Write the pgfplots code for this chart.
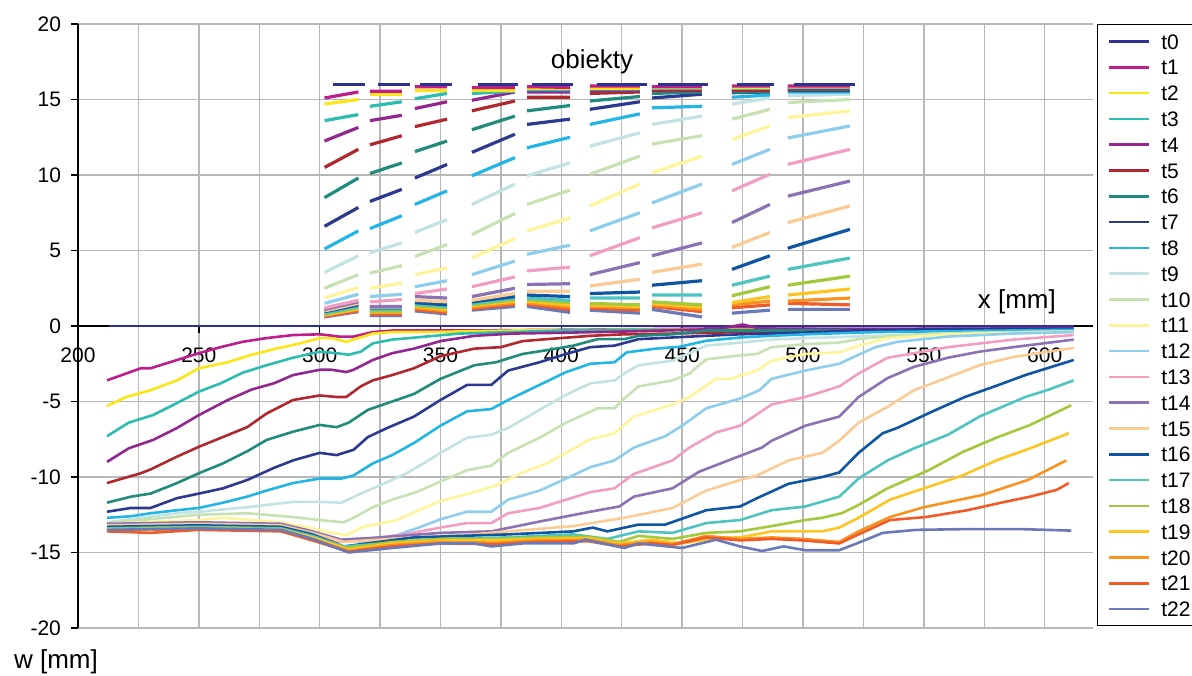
\documentclass[border=0pt]{standalone}
\usepackage{pgfplots}
\usepackage{pgfplotstable}
\pgfplotsset{compat=1.18}
\usepackage{fontspec}
\setmainfont{Liberation Sans}

\definecolor{c0}{HTML}{2E3192}
\definecolor{c1}{HTML}{BE1E8C}
\definecolor{c2}{HTML}{FCE516}
\definecolor{c3}{HTML}{2DBCB0}
\definecolor{c4}{HTML}{92278F}
\definecolor{c5}{HTML}{B0282D}
\definecolor{c6}{HTML}{208B7D}
\definecolor{c7}{HTML}{2B3990}
\definecolor{c8}{HTML}{22B5E6}
\definecolor{c9}{HTML}{C2E3E2}
\definecolor{c10}{HTML}{C6E2B2}
\definecolor{c11}{HTML}{FFF49A}
\definecolor{c12}{HTML}{8DCEEF}
\definecolor{c13}{HTML}{F29EC2}
\definecolor{c14}{HTML}{8A72B4}
\definecolor{c15}{HTML}{FCCB94}
\definecolor{c16}{HTML}{0E55A4}
\definecolor{c17}{HTML}{4DC4C0}
\definecolor{c18}{HTML}{A3C83C}
\definecolor{c19}{HTML}{FDC521}
\definecolor{c20}{HTML}{F7931E}
\definecolor{c21}{HTML}{F15A29}
\definecolor{c22}{HTML}{6A79B8}

% object segments (x0/t0 for t0, x for all others); nan rows break the lines
\pgfplotstableread{
x0 t0 x t1 t2 t3 t4 t5 t6 t7 t8 t9 t10 t11 t12 t13 t14 t15 t16 t17 t18 t19 t20 t21 t22
305.5 16 302 15.1 14.7 13.6 12.25 10.5 8.5 6.6 5.1 3.55 2.5 1.85 1.5 1.2 1.1 1.0 0.95 0.85 0.8 0.75 0.7 0.65 0.6
318.7 16 316 15.5 15.0 14.0 13.15 11.7 9.8 7.85 6.3 4.65 3.4 2.55 2.1 1.7 1.6 1.5 1.4 1.3 1.2 1.15 1.1 1.0 0.95
321 nan 318 nan nan nan nan nan nan nan nan nan nan nan nan nan nan nan nan nan nan nan nan nan nan
324.1 16 320.8 15.55 15.35 14.55 13.6 12.0 10.1 8.25 6.45 4.85 3.5 2.5 1.95 1.6 1.3 1.25 1.2 1.1 1.0 0.95 0.9 0.8 0.7
337.4 16 334 15.55 15.35 14.85 13.95 12.6 10.8 9.05 7.3 5.5 4.0 2.85 2.1 1.75 1.3 1.25 1.2 1.1 1.0 0.95 0.9 0.8 0.7
339.5 nan 337 nan nan nan nan nan nan nan nan nan nan nan nan nan nan nan nan nan nan nan nan nan nan
341.5 16 339.4 15.85 15.6 15.05 14.4 13.2 11.55 9.8 8.05 6.2 4.6 3.4 2.6 2.15 1.95 1.7 1.55 1.45 1.35 1.3 1.2 1.1 1.0
354.7 16 352.7 15.85 15.6 15.4 14.85 13.7 12.25 10.7 8.95 7.05 5.4 3.85 3.0 2.45 1.85 1.6 1.4 1.3 1.2 1.1 1.0 0.9 0.8
360 nan 358 nan nan nan nan nan nan nan nan nan nan nan nan nan nan nan nan nan nan nan nan nan nan
365.5 16 363 15.8 15.6 15.4 14.95 14.25 13.0 11.5 9.95 8.05 6.05 4.5 3.4 2.6 1.95 1.7 1.6 1.5 1.4 1.35 1.25 1.15 1.05
382 16 380.8 15.8 15.6 15.55 15.5 14.9 13.9 12.7 11.15 9.4 7.45 5.8 4.3 3.25 2.5 2.15 1.95 1.85 1.75 1.65 1.55 1.45 1.3
385 nan 383 nan nan nan nan nan nan nan nan nan nan nan nan nan nan nan nan nan nan nan nan nan nan
387.8 16 385.8 15.85 15.75 15.65 15.5 15.15 14.25 13.35 11.8 9.95 8.05 6.3 4.75 3.65 2.75 2.3 2.05 1.85 1.75 1.65 1.55 1.45 1.3
404.8 16 403.6 15.8 15.75 15.65 15.5 15.15 14.6 13.7 12.5 10.8 9.0 7.15 5.35 3.9 2.8 2.3 1.95 1.7 1.55 1.4 1.25 1.1 0.9
410 nan 408 nan nan nan nan nan nan nan nan nan nan nan nan nan nan nan nan nan nan nan nan nan nan
414.7 16 411.8 15.9 15.75 15.7 15.6 15.4 14.9 14.35 13.35 11.9 10.05 7.95 6.3 4.65 3.4 2.65 2.15 1.85 1.5 1.4 1.3 1.2 1.05
435.4 16 432.5 15.9 15.75 15.7 15.6 15.5 15.2 14.85 14.05 12.8 11.25 9.4 7.5 5.85 4.2 3.1 2.25 1.85 1.4 1.3 1.2 1.05 0.85
437.5 nan 435 nan nan nan nan nan nan nan nan nan nan nan nan nan nan nan nan nan nan nan nan nan nan
440 16 437.5 15.85 15.8 15.75 15.7 15.6 15.4 15.1 14.45 13.35 12.05 10.15 8.15 6.5 4.65 3.55 2.7 2.05 1.6 1.5 1.4 1.3 1.1
460.7 16 458.2 15.85 15.8 15.75 15.7 15.6 15.5 15.35 14.55 13.9 12.6 11.25 9.4 7.5 5.5 4.1 3.0 2.05 1.4 1.25 1.1 0.95 0.6
466 nan 464 nan nan nan nan nan nan nan nan nan nan nan nan nan nan nan nan nan nan nan nan nan nan
472.7 16 470.6 15.9 15.8 15.75 15.7 15.6 15.5 15.45 15.15 14.7 13.7 12.35 10.7 8.95 6.85 5.2 3.75 2.7 2.0 1.55 1.4 1.2 0.85
488 16 486.3 15.9 15.8 15.75 15.7 15.6 15.5 15.5 15.3 15.1 14.35 13.25 11.7 10.05 8.05 6.2 4.65 3.3 2.6 1.95 1.65 1.4 1.05
492 nan 490 nan nan nan nan nan nan nan nan nan nan nan nan nan nan nan nan nan nan nan nan nan nan
496.2 16 493.7 15.9 15.85 15.8 15.75 15.7 15.65 15.6 15.5 15.25 14.8 13.8 12.45 10.7 8.6 6.85 5.15 3.75 2.7 2.05 1.65 1.5 1.1
521.5 16 519.4 15.9 15.85 15.8 15.75 15.7 15.65 15.6 15.5 15.35 15.0 14.25 13.25 11.7 9.6 7.95 6.4 4.5 3.3 2.45 1.85 1.4 1.1
}\objects

\pgfplotsset{
  mainline/.style={line width=1.3pt},
  obj/.style={line width=1.6pt, forget plot},
}

\begin{document}
\begin{tikzpicture}
\useasboundingbox (0,0) rectangle (596pt,337.5pt);
\begin{axis}[
  at={(39pt,23.5pt)}, anchor=south west,
  scale only axis, width=507.5pt, height=302pt,
  xmin=200, xmax=620, ymin=-20, ymax=20,
  axis x line*=middle, axis y line*=left,
  hide obscured x ticks=false, hide obscured y ticks=false,
  xtick={200,250,...,600}, minor xtick={225,275,...,575},
  ytick={-20,-15,...,20},
  grid=both,
  major grid style={draw=black!28, line width=0.7pt},
  minor grid style={draw=black!28, line width=0.7pt},
  tick align=outside, major tick length=3.5pt, minor tick length=0pt,
  tick style={black, line width=0.7pt},
  axis line style={black, line width=0.8pt},
  tick label style={font=\fontsize{10.5}{12}\selectfont},
  x tick label style={yshift=-4pt},
  y tick label style={xshift=-1.5pt},
  /pgf/number format/assume math mode=true,
  /pgf/number format/1000 sep={},
  unbounded coords=jump,
  clip=false,
  legend cell align=left,
  legend style={at={(1.004,1)}, anchor=north west, draw=black, line width=0.7pt, fill=white,
    font=\fontsize{10.5}{12}\selectfont, inner xsep=2pt, inner ysep=1.9pt, row sep=0pt,
    nodes={text height=7.6pt, text depth=0pt, inner xsep=0pt, inner ysep=2.65pt},
    /tikz/every odd column/.append style={column sep=5.5pt}},
  legend image code/.code={\path (0pt,0pt); \draw[#1] (3pt,0pt) -- (23pt,0pt);},
]
\addplot[c0, mainline] coordinates {(213,0)(612,0)};
\addplot[c1, mainline] coordinates {(212,-3.6)(226,-2.8)(230,-2.8)(241,-2.25)(250,-1.8)(259,-1.4)(268,-1.05)(278,-0.8)(289,-0.6)(300,-0.55)(303,-0.6)(308,-0.7)(314,-0.7)(322,-0.4)(330,-0.3)(360,-0.3)(400,-0.25)(440,-0.2)(470,-0.15)(520,-0.2)(560,-0.2)(612,-0.2)};
\addplot[c2, mainline] coordinates {(212,-5.3)(220,-4.7)(230,-4.25)(241,-3.6)(250,-2.8)(262,-2.4)(272,-1.9)(282,-1.5)(292,-1.15)(300,-0.8)(305,-0.8)(311,-1.05)(314,-0.9)(322,-0.5)(330,-0.4)(344,-0.4)(380,-0.3)(420,-0.25)(470,-0.25)(520,-0.25)(612,-0.3)};
\addplot[c3, mainline] coordinates {(212,-7.3)(221,-6.4)(231,-5.9)(241,-5.1)(250,-4.35)(259,-3.8)(268,-3.1)(278,-2.6)(289,-2.1)(300,-1.7)(307,-1.8)(312,-1.9)(317,-1.7)(322,-1.15)(330,-0.9)(344,-0.7)(358,-0.5)(380,-0.4)(400,-0.3)(430,-0.25)(470,-0.3)(520,-0.3)(612,-0.3)};
\addplot[c4, mainline] coordinates {(212,-9.0)(221,-8.1)(231,-7.55)(241,-6.75)(250,-5.9)(262,-4.9)(272,-4.2)(281,-3.8)(289,-3.25)(300,-2.9)(305,-2.9)(311,-3.05)(314,-2.9)(322,-2.25)(330,-1.8)(339,-1.5)(350,-1.0)(364,-0.65)(380,-0.5)(400,-0.45)(430,-0.35)(465,-0.2)(475,0.1)(483,-0.2)(520,-0.2)(612,-0.15)};
\addplot[c5, mainline] coordinates {(212,-10.4)(226,-9.75)(230,-9.5)(241,-8.65)(250,-8.0)(260,-7.35)(270,-6.7)(278,-5.8)(289,-4.9)(300,-4.6)(307,-4.7)(311,-4.7)(317,-4.0)(322,-3.6)(330,-3.25)(339,-2.8)(350,-2.0)(364,-1.5)(375,-1.4)(384,-1.0)(394,-0.87)(412,-0.65)(426,-0.55)(446,-0.5)(475,-0.4)(500,-0.35)(540,-0.3)(612,-0.3)};
\addplot[c6, mainline] coordinates {(212,-11.7)(222,-11.3)(230,-11.1)(241,-10.4)(250,-9.75)(260,-9.1)(270,-8.3)(278,-7.55)(289,-7.0)(300,-6.55)(307,-6.7)(312,-6.4)(320,-5.55)(330,-5.0)(339,-4.5)(350,-3.5)(357,-3.05)(364,-2.6)(373,-2.4)(384,-1.85)(394,-1.6)(405,-1.3)(415,-0.87)(426,-0.87)(432,-0.65)(446,-0.55)(460,-0.3)(540,-0.3)(612,-0.3)};
\addplot[c7, mainline] coordinates {(212,-12.3)(222,-12.05)(230,-12.05)(241,-11.4)(250,-11.1)(260,-10.75)(270,-10.2)(281,-9.4)(289,-8.9)(300,-8.4)(307,-8.55)(314,-8.2)(320,-7.35)(328,-6.75)(339,-6.0)(350,-4.9)(361,-3.9)(371,-3.9)(378,-2.95)(391,-2.4)(402,-1.85)(412,-1.4)(422,-1.3)(432,-0.87)(446,-0.76)(460,-0.65)(474,-0.55)(500,-0.45)(520,-0.3)(560,-0.2)(612,-0.2)};
\addplot[c8, mainline] coordinates {(212,-12.7)(222,-12.6)(230,-12.4)(241,-12.2)(250,-12.05)(260,-11.7)(270,-11.3)(278,-10.9)(289,-10.4)(300,-10.1)(309,-10.1)(314,-9.9)(322,-9.1)(330,-8.55)(339,-7.75)(350,-6.6)(361,-5.65)(371,-5.5)(378,-4.9)(391,-3.9)(402,-3.05)(412,-2.5)(422,-2.4)(427,-1.75)(439,-1.5)(449,-1.37)(460,-0.98)(474,-0.76)(487,-0.65)(501,-0.55)(530,-0.4)(612,-0.25)};
\addplot[c9, mainline] coordinates {(212,-13.0)(241,-12.4)(250,-12.3)(270,-12.0)(289,-11.65)(300,-11.65)(309,-11.7)(317,-11.1)(325,-10.55)(336,-9.75)(344,-9.0)(350,-8.4)(361,-7.4)(371,-7.2)(378,-6.75)(391,-5.55)(402,-4.55)(412,-3.8)(422,-3.6)(427,-3.05)(432,-2.6)(446,-2.3)(460,-1.3)(474,-1.1)(487,-0.9)(501,-0.8)(522,-0.7)(560,-0.5)(612,-0.35)};
\addplot[c10, mainline] coordinates {(212,-13.05)(250,-12.5)(270,-12.4)(289,-12.65)(300,-12.85)(310,-13.0)(314,-12.7)(322,-12.0)(330,-11.5)(340,-11.0)(350,-10.3)(361,-9.55)(371,-9.25)(378,-8.4)(391,-7.4)(402,-6.4)(415,-5.45)(422,-5.45)(426,-4.8)(432,-4.0)(446,-3.6)(453,-3.15)(460,-2.2)(474,-1.95)(481,-1.85)(487,-1.4)(501,-1.2)(515,-1.1)(523,-0.87)(540,-0.6)(570,-0.45)(612,-0.35)};
\addplot[c11, mainline] coordinates {(212,-13.1)(250,-12.85)(260,-12.7)(284,-13.0)(297,-13.4)(305,-13.7)(311,-13.85)(318,-13.3)(332,-12.85)(341,-12.2)(350,-11.6)(364,-11.0)(373,-10.55)(384,-9.7)(394,-9.1)(402,-8.4)(412,-7.5)(422,-7.1)(430,-6.0)(446,-5.2)(453,-4.7)(464,-3.5)(470,-3.5)(481,-2.95)(487,-2.3)(501,-1.85)(515,-1.75)(523,-1.3)(535,-0.8)(560,-0.55)(612,-0.4)};
\addplot[c12, mainline] coordinates {(212,-13.2)(250,-13.0)(284,-13.2)(297,-13.7)(308,-14.15)(318,-14.3)(332,-13.85)(341,-13.35)(350,-12.8)(361,-12.3)(371,-12.3)(378,-11.5)(391,-10.9)(402,-10.1)(412,-9.35)(422,-8.9)(430,-8.05)(443,-7.3)(450,-6.6)(460,-5.45)(474,-4.8)(482,-4.25)(487,-3.5)(501,-2.95)(515,-2.5)(523,-1.9)(530,-1.4)(539,-1.05)(560,-0.7)(587,-0.5)(612,-0.4)};
\addplot[c13, mainline] coordinates {(212,-13.3)(250,-13.1)(284,-13.25)(297,-13.8)(308,-14.3)(318,-14.15)(335,-13.8)(350,-13.35)(361,-13.05)(371,-13.05)(378,-12.4)(391,-12.05)(402,-11.5)(412,-11.0)(422,-10.75)(430,-9.8)(446,-8.9)(453,-8.05)(464,-7.05)(474,-6.6)(487,-5.2)(501,-4.7)(515,-4.0)(523,-3.15)(535,-2.1)(546,-1.8)(560,-1.4)(587,-0.9)(612,-0.6)};
\addplot[c14, mainline] coordinates {(212,-13.1)(250,-13.0)(284,-13.1)(297,-13.6)(309,-14.15)(325,-14.0)(350,-13.7)(371,-13.6)(391,-12.95)(412,-12.3)(424,-11.95)(430,-11.3)(446,-10.75)(457,-9.65)(474,-8.6)(483,-8.05)(487,-7.6)(501,-6.6)(515,-6.0)(523,-4.7)(535,-3.45)(546,-2.7)(560,-2.1)(573,-1.7)(587,-1.4)(612,-0.9)};
\addplot[c15, mainline] coordinates {(212,-13.2)(250,-13.1)(284,-13.2)(297,-13.7)(310,-14.3)(339,-14.0)(360,-13.85)(378,-13.6)(405,-13.25)(426,-12.7)(446,-12.05)(460,-10.9)(474,-10.2)(481,-9.9)(494,-8.9)(508,-8.4)(515,-7.6)(523,-6.4)(535,-5.35)(546,-4.25)(560,-3.4)(573,-2.6)(587,-2.05)(612,-1.45)};
\addplot[c16, mainline] coordinates {(212,-13.3)(250,-13.2)(284,-13.3)(297,-13.8)(310,-14.6)(339,-14.0)(378,-13.8)(405,-13.6)(413,-13.35)(419,-13.6)(432,-13.15)(443,-13.15)(460,-12.2)(474,-11.95)(481,-11.4)(494,-10.45)(508,-10.0)(515,-9.7)(523,-8.4)(533,-7.1)(539,-6.75)(553,-5.7)(567,-4.7)(581,-3.9)(592,-3.25)(612,-2.25)};
\addplot[c17, mainline] coordinates {(212,-13.4)(250,-13.3)(284,-13.4)(297,-13.9)(310,-14.6)(350,-14.1)(378,-14.0)(405,-13.8)(419,-14.1)(432,-13.6)(446,-13.7)(460,-13.05)(474,-12.85)(487,-12.2)(501,-11.95)(515,-11.3)(523,-10.1)(535,-8.9)(546,-8.1)(560,-7.2)(573,-6.0)(592,-4.7)(601,-4.25)(612,-3.6)};
\addplot[c18, mainline] coordinates {(212,-13.45)(250,-13.35)(284,-13.45)(297,-14.0)(311,-14.7)(330,-14.3)(350,-14.1)(373,-14.1)(390,-14.0)(411,-13.95)(424,-14.3)(432,-13.9)(446,-14.1)(460,-13.7)(474,-13.6)(487,-13.25)(501,-12.85)(508,-12.7)(516,-12.4)(523,-11.85)(535,-10.75)(552,-9.55)(566,-8.35)(580,-7.4)(594,-6.55)(611,-5.25)};
\addplot[c19, mainline] coordinates {(212,-13.5)(250,-13.4)(284,-13.5)(297,-14.0)(312,-14.8)(330,-14.4)(350,-14.2)(373,-14.2)(390,-14.1)(411,-14.05)(424,-14.4)(437,-14.15)(450,-14.4)(463,-14.05)(474,-14.0)(487,-13.6)(508,-13.6)(515,-13.35)(523,-12.7)(536,-11.5)(552,-10.65)(566,-9.9)(580,-8.9)(594,-8.1)(610,-7.1)};
\addplot[c20, mainline] coordinates {(212,-13.55)(250,-13.45)(284,-13.55)(297,-14.1)(312,-14.9)(330,-14.5)(350,-14.3)(373,-14.35)(390,-14.2)(411,-14.15)(424,-14.5)(437,-14.3)(446,-14.45)(460,-13.9)(474,-14.1)(487,-14.0)(500,-14.1)(515,-14.3)(523,-13.6)(536,-12.65)(550,-12.0)(574,-11.2)(593,-10.2)(609,-8.9)};
\addplot[c21, mainline] coordinates {(212,-13.6)(230,-13.7)(250,-13.5)(284,-13.6)(297,-14.2)(312,-14.95)(330,-14.6)(350,-14.4)(373,-14.45)(390,-14.3)(411,-14.25)(424,-14.6)(437,-14.4)(446,-14.5)(460,-14.0)(474,-14.2)(487,-14.1)(500,-14.2)(515,-14.4)(523,-13.8)(536,-12.85)(551,-12.65)(568,-12.2)(582,-11.7)(594,-11.3)(605,-10.85)(610,-10.4)};
\addplot[c22, mainline] coordinates {(212,-13.5)(250,-13.4)(284,-13.5)(297,-14.1)(312,-15.0)(330,-14.7)(350,-14.4)(364,-14.4)(371,-14.6)(384,-14.4)(405,-14.4)(410,-14.15)(426,-14.7)(432,-14.4)(450,-14.7)(464,-14.15)(474,-14.6)(483,-14.9)(492,-14.6)(501,-14.85)(515,-14.85)(523,-14.35)(533,-13.7)(547,-13.5)(568,-13.45)(590,-13.45)(611,-13.55)};
\legend{t0,t1,t2,t3,t4,t5,t6,t7,t8,t9,t10,t11,t12,t13,t14,t15,t16,t17,t18,t19,t20,t21,t22}

\addplot[obj, c22] table[x=x, y=t22] {\objects};
\addplot[obj, c21] table[x=x, y=t21] {\objects};
\addplot[obj, c20] table[x=x, y=t20] {\objects};
\addplot[obj, c19] table[x=x, y=t19] {\objects};
\addplot[obj, c18] table[x=x, y=t18] {\objects};
\addplot[obj, c17] table[x=x, y=t17] {\objects};
\addplot[obj, c16] table[x=x, y=t16] {\objects};
\addplot[obj, c15] table[x=x, y=t15] {\objects};
\addplot[obj, c14] table[x=x, y=t14] {\objects};
\addplot[obj, c13] table[x=x, y=t13] {\objects};
\addplot[obj, c12] table[x=x, y=t12] {\objects};
\addplot[obj, c11] table[x=x, y=t11] {\objects};
\addplot[obj, c10] table[x=x, y=t10] {\objects};
\addplot[obj, c9] table[x=x, y=t9] {\objects};
\addplot[obj, c8] table[x=x, y=t8] {\objects};
\addplot[obj, c7] table[x=x, y=t7] {\objects};
\addplot[obj, c6] table[x=x, y=t6] {\objects};
\addplot[obj, c5] table[x=x, y=t5] {\objects};
\addplot[obj, c4] table[x=x, y=t4] {\objects};
\addplot[obj, c3] table[x=x, y=t3] {\objects};
\addplot[obj, c2] table[x=x, y=t2] {\objects};
\addplot[obj, c1] table[x=x, y=t1] {\objects};
\addplot[obj, c0] table[x=x0, y=t0] {\objects};

\node[font=\fontsize{13}{15}\selectfont] at (axis cs:412.7,17.5) {obiekty};
\node[font=\fontsize{13}{15}\selectfont] at (axis cs:588.5,1.6) {x [mm]};
\node[font=\fontsize{13}{15}\selectfont] at (axis cs:190.9,-22.25) {w [mm]};
\end{axis}
\end{tikzpicture}
\end{document}
